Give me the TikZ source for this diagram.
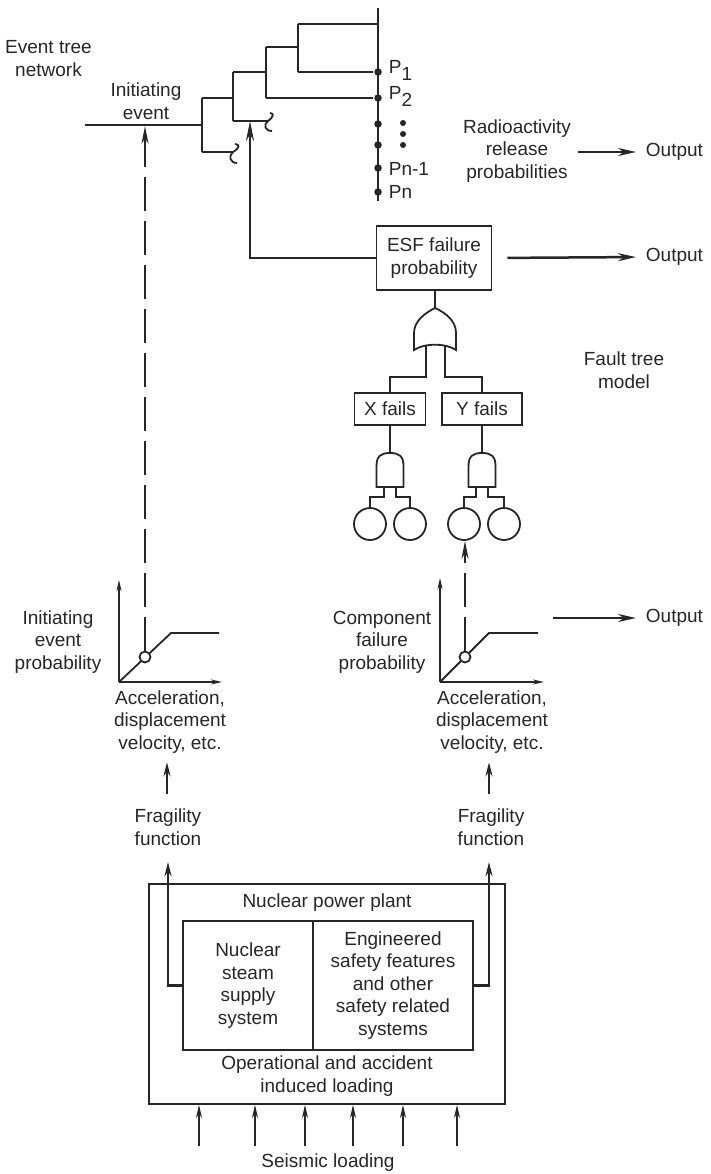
\documentclass[tikz,border=0pt]{standalone}
\usepackage{fontspec}
\setmainfont{Liberation Sans}
\usetikzlibrary{arrows.meta}
\begin{document}
\begin{tikzpicture}[x=1pt,y=-1pt,line width=1.8pt,color={black!85},
  font=\fontsize{19}{22.5}\selectfont,
  txt/.style={align=center,inner sep=0pt},
  box/.style={draw,align=center,inner sep=0pt},
  outarr/.style={line width=2.5pt,-{Stealth[length=18pt,width=8pt]}},
  fragarr/.style={line width=2.2pt,-{Stealth[length=14pt,width=7pt]}},
  thinarr/.style={line width=1.7pt,-{Stealth[length=13pt,width=6pt]}},
  axarr/.style={line width=1.7pt,-{Stealth[length=11pt,width=5pt]}},
  dasharr/.style={line width=2.2pt,dash pattern=on 34pt off 10pt,-{Stealth[length=18pt,width=7pt]}},
  solarr/.style={line width=2.2pt,-{Stealth[length=20pt,width=8pt]}},
  ball/.style={circle,fill,inner sep=0pt,minimum size=7.5pt},
  sball/.style={circle,fill,inner sep=0pt,minimum size=6pt},
  evt/.style={circle,draw,inner sep=0pt,minimum size=32pt},
  ocirc/.style={circle,draw,fill=white,inner sep=0pt,minimum size=11pt}]
\useasboundingbox (0,0) rectangle (710,1174);

% ---------------- Event tree ----------------
\node[txt] (etn) at (48.5,58.5) {Event tree\\network};
\node[txt] (ie) at (146,101) {Initiating\\event};
\coordinate (ie0) at (85,125);
\coordinate (b1) at (202,125);
\coordinate (b1t) at (202,98);
\coordinate (b1b) at (202,152);
\coordinate (b2) at (233,98);
\coordinate (b2t) at (233,72);
\coordinate (b2b) at (233,121);
\coordinate (b3) at (266,72);
\coordinate (b3t) at (266,47);
\coordinate (b3b) at (266,98);
\coordinate (b4) at (298,47);
\coordinate (b4t) at (298,24);
\coordinate (b4b) at (298,72);
\coordinate (iearr) at (145,126);
\coordinate (b2arr) at (250,121);

\draw (ie0) -- (b1);
\draw (b1t) -- (b1b);
\draw (b1t) -- (b2);
\draw (b1b) -- (233,152) .. controls (240,148) and (240,144) .. (235,144)
   (233,152) .. controls (228,156) and (230,163) .. (237,163);
\draw (b2t) -- (b2b);
\draw (b2t) -- (b3);
\draw (b2b) -- (268,121) .. controls (274,117) and (274,113) .. (270,113)
   (268,121) .. controls (263,125) and (265,131) .. (272,131);
\draw (b3t) -- (b3b);
\draw (b3t) -- (b4);
\draw (b4t) -- (b4b);
\draw (b4t) -- (378,24);

\coordinate (vt) at (378,8);
\coordinate (vb) at (378,201);
\draw (vt) -- (vb);
\node[ball] (p1) at (378,72) {};
\node[ball] (p2) at (378,98) {};
\node[ball] (p3) at (378,124) {};
\node[ball] (p4) at (378,145) {};
\node[ball] (p5) at (378,168) {};
\node[ball] (p6) at (378,192) {};
\draw (b4b) -- (p1);
\draw (b3b) -- (p2);
\node[anchor=west,inner sep=0pt] (lp1) at (388,70) {P\raisebox{-7pt}{1}};
\node[anchor=west,inner sep=0pt] (lp2) at (388,96) {P\raisebox{-7pt}{2}};
\node[sball] (d1) at (403,123) {};
\node[sball] (d2) at (403,134) {};
\node[sball] (d3) at (403,145) {};
\node[anchor=west,inner sep=0pt] (lpn1) at (388,169) {Pn-1};
\node[anchor=west,inner sep=0pt] (lpn) at (388,192) {Pn};

% Radioactivity
\node[txt] (rad) at (517,151) {Radioactivity\\release\\probabilities};
\node[anchor=west,inner sep=0pt] (out1) at (645,152) {Output};
\draw[outarr,shorten <=6pt,shorten >=9pt] (rad.east |- out1.west) -- (out1.west);

% ---------------- ESF box and fault tree ----------------
\node[box,minimum width=115pt,minimum height=64pt] (esf) at (434,258) {ESF failure\\probability};
\draw[solarr] (esf.west) -| (b2arr);
\node[anchor=west,inner sep=0pt] (out2) at (645,257) {Output};
\draw[outarr,shorten <=15pt,shorten >=9pt] (esf.east) -- (out2.west);

\node[txt] (ftm) at (624,370) {Fault tree\\model};

% OR gate
\coordinate (orapex) at (435,308);
\draw (esf.south -| orapex) -- (orapex);
\draw (414,350) -- (414,333) .. controls (414,321) and (425,313) .. (orapex)
   .. controls (446,313) and (456,321) .. (456,333) -- (456,350)
   .. controls (446,343) and (424,343) .. (414,350) -- cycle;

\node[box,minimum width=71pt,minimum height=32pt] (xf) at (390,409) {X fails};
\node[box,minimum width=80pt,minimum height=32pt] (yf) at (482,409) {Y fails};
\draw (426,345) -- (426,377) -| (xf.north);
\draw (445,345) -- (445,377) -| (yf.north);

% AND gates
\draw (376.5,487) -- (376.5,466) .. controls (376.5,456) and (381,453) .. (390,453)
   .. controls (399,453) and (403.5,456) .. (403.5,466) -- (403.5,487) -- cycle;
\draw (xf.south) -- (390,453);
\draw (468.5,487) -- (468.5,466) .. controls (468.5,456) and (473,453) .. (482,453)
   .. controls (491,453) and (495.5,456) .. (495.5,466) -- (495.5,487) -- cycle;
\draw (yf.south) -- (482,453);

\node[evt] (c1) at (370,524) {};
\node[evt] (c2) at (410,524) {};
\node[evt] (c3) at (464,524) {};
\node[evt] (c4) at (504,524) {};
\draw (384,487) -- (384,497) -| (c1.north);
\draw (396,487) -- (396,497) -| (c2.north);
\draw (476,487) -- (476,497) -| (c3.north);
\draw (488,487) -- (488,497) -| (c4.north);

% ---------------- Left graph ----------------
\coordinate (o1) at (119,682);
\draw[axarr] (o1) -- (119,580);
\draw[axarr] (o1) -- (222,682);
\draw (o1) -- (171,633) -- (219,633);
\node[ocirc] (g1) at (145,657) {};
\draw[dasharr] (g1.north) -- (iearr);
\node[txt] (iep) at (58,642) {Initiating\\event\\probability};
\node[txt] (acc1) at (170,722) {Acceleration,\\displacement\\velocity, etc.};
\node[txt] (frag1) at (168,827) {Fragility\\function};
\draw[fragarr,shorten <=14pt,shorten >=8pt] (frag1.north -| 167,0) -- (acc1.south -| 167,0);

% ---------------- Right graph ----------------
\coordinate (o2) at (440,682);
\draw[axarr] (o2) -- (440,578);
\draw[axarr] (o2) -- (544,682);
\draw (o2) -- (489,633) -- (538,633);
\node[ocirc] (g2) at (465,657) {};
\draw[dasharr] (g2.north) -- (g2.north |- c3.south);
\node[txt] (cfp) at (382,642) {Component\\failure\\probability};
\coordinate (g2o) at (553,618);
\node[anchor=west,inner sep=0pt] (out3) at (645,618) {Output};
\draw[outarr,shorten >=9pt] (g2o) -- (out3.west);
\node[txt] (acc2) at (492,722) {Acceleration,\\displacement\\velocity, etc.};
\node[txt] (frag2) at (491,827) {Fragility\\function};
\draw[fragarr,shorten <=14pt,shorten >=8pt] (frag2.north -| 489,0) -- (acc2.south -| 489,0);

% ---------------- Plant ----------------
\node[draw,inner sep=0pt,minimum width=356pt,minimum height=220pt] (npp) at (327,994) {};
\node[txt] (nppl) at (327,903) {Nuclear power plant};
\node[box,minimum width=130pt,minimum height=129pt] (nsss) at (248,985.5) {Nuclear\\steam\\supply\\system};
\node[box,minimum width=160pt,minimum height=129pt] (esfs) at (393,985.5) {Engineered\\safety features\\and other\\safety related\\systems};
\node[txt] (oail) at (327,1076) {Operational and accident\\induced loading};
\draw[fragarr] (nsss.west) -| ([yshift=-16pt]frag1.south -| 168,0);
\draw[fragarr] (esfs.east) -| ([yshift=-16pt]frag2.south -| 489,0);

\node[txt] (seis) at (328,1163) {Seismic loading};
\foreach \x in {199,255,305,353,403,457}
  \draw[thinarr] (\x,1146) -- (\x,0 |- npp.south);
\end{tikzpicture}
\end{document}
